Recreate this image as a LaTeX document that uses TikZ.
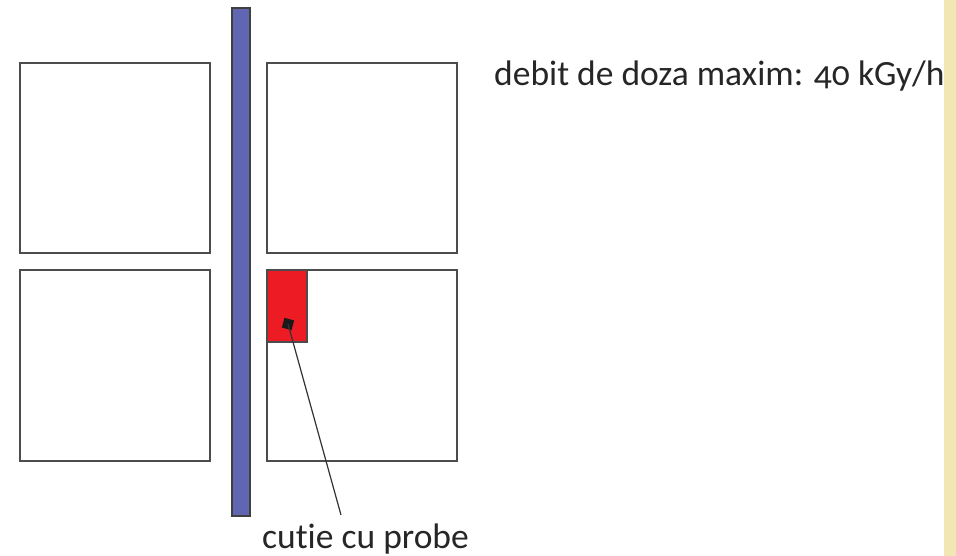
\documentclass[tikz,border=0pt]{standalone}
\usepackage{fontspec}
\setmainfont{Carlito}[Numbers=OldStyle,Ligatures={NoCommon,NoRare,NoContextual}]
\begin{document}
\begin{tikzpicture}[x=1pt,y=-1pt,
  cell/.style={draw=black!70,line width=1.3pt,fill=white},
  lbl/.style={font=\fontsize{35.5}{38}\selectfont,text=black!85,inner sep=0pt}]
\useasboundingbox (0,0) rectangle (956,556);
\fill[white] (0,0) rectangle (956,556);
\fill[fill={rgb,255:red,242;green,230;blue,180}] (944,0) rectangle (956,556);
\draw[cell] (20,63) rectangle (210,253);
\draw[cell] (20,270) rectangle (210,461);
\draw[cell] (267,63) rectangle (457,253);
\draw[cell] (267,270) rectangle (457,461);
\draw[draw=black!75,line width=1.3pt,fill={rgb,255:red,96;green,102;blue,178}] (232,8) rectangle (250,516);
\draw[draw=black!70,line width=1.3pt,fill={rgb,255:red,237;green,28;blue,36}] (267,270) rectangle (307,342);
\node[draw=none,fill=black!90,minimum size=10pt,inner sep=0pt,rotate=-15] (probe) at (288,324) {};
\coordinate (lend) at (341,515);
\draw[black!80,line width=1.2pt] (probe.center) -- (lend);
\node[lbl,anchor=base west] (cutie) at (262,548) {cutie cu probe};
\node[lbl,anchor=base west] (debit) at (494,86) {debit de doza maxim: 40 kGy/h};
\end{tikzpicture}
\end{document}
